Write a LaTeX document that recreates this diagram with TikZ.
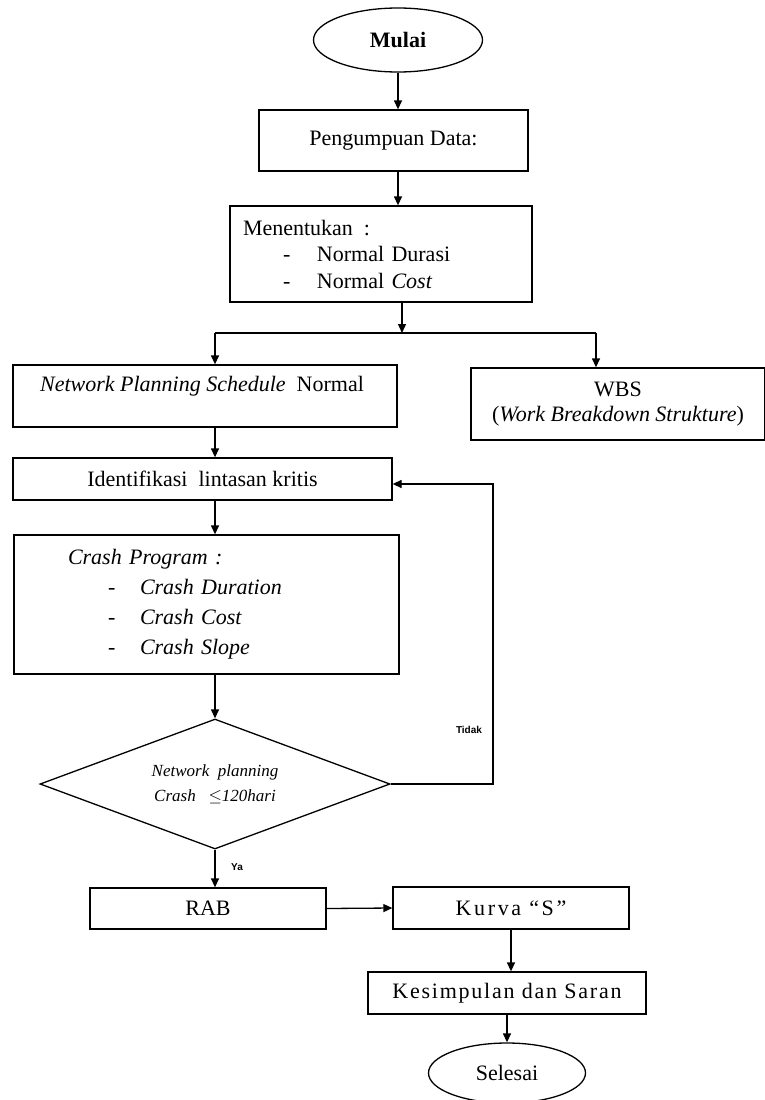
\documentclass[tikz,border=0pt]{standalone}
\usepackage{fontspec}
\setmainfont{Liberation Serif}
\newfontfamily\sansf{Liberation Sans}
\newfontfamily\spacedA[LetterSpace=8]{Liberation Serif}
\newfontfamily\spacedB[LetterSpace=12]{Liberation Serif}
\usetikzlibrary{shapes.geometric,arrows.meta}
\tikzset{
  box/.style={draw,line width=1.3pt,rectangle,inner sep=0pt,font=\fontsize{22}{26}\selectfont},
  oval/.style={draw,line width=1.3pt,ellipse,inner sep=0pt,font=\fontsize{22}{26}\selectfont},
  txt/.style={inner sep=0pt,font=\fontsize{22}{26}\selectfont},
  line/.style={line width=1.3pt},
  arr/.style={line width=1.3pt,-{Triangle[length=9pt,width=8pt]}},
  lab/.style={inner sep=0pt,font=\sansf\bfseries\fontsize{10}{12}\selectfont},
}
\newcommand{\dashitem}[2]{\makebox[#1][l]{\hspace*{40pt}\upshape -}#2}
\begin{document}
\begin{tikzpicture}[x=1pt,y=-1pt]
\useasboundingbox (0,0) rectangle (765,1100);
\fill[white] (0,0) rectangle (765,1100);
% nodes
\node[oval,minimum width=169pt,minimum height=64pt] (mulai) at (398,40) {\bfseries Mulai};
\node[box,minimum width=269pt,minimum height=61pt] (data) at (393.5,140.5) {Pengumpuan Data:};
\node[box,minimum width=302pt,minimum height=96pt,text width=276pt,align=left,inner xsep=13pt,font=\fontsize{22}{26.5}\selectfont] (tentukan) at (381,254)
  {Menentukan \,:\\\dashitem{74pt}{Normal Durasi}\\\dashitem{74pt}{Normal \textit{Cost}}};
\node[box,minimum width=384pt,minimum height=62pt] (nps) at (205,396) {};
\node[txt] (npst) at (202,386) {\textit{Network Planning Schedule} \ Normal};
\node[box,minimum width=294pt,minimum height=72pt,align=center,font=\fontsize{22}{25}\selectfont] (wbs) at (618,404) {WBS\\(\textit{Work Breakdown Strukture})};
\node[box,minimum width=379pt,minimum height=42pt] (ident) at (202.5,479) {Identifikasi \ lintasan kritis};
\node[box,minimum width=385pt,minimum height=139pt,text width=277pt,align=left,inner xsep=54pt,font=\itshape\fontsize{22}{30}\selectfont] (crash) at (206.5,604.5)
  {Crash Program :\\\dashitem{72pt}{Crash Duration}\\\dashitem{72pt}{Crash Cost}\\\dashitem{72pt}{Crash Slope}};
\node[draw,line width=1.3pt,diamond,aspect=2.69,minimum width=350pt,minimum height=130pt,inner sep=0pt,align=center,font=\itshape\fontsize{17}{25}\selectfont] (dia) at (215,784)
  {Network \ planning\\Crash \ \ $\leq$120hari};
\node[box,minimum width=236pt,minimum height=41pt] (rab) at (208,908.5) {RAB};
\node[box,minimum width=236pt,minimum height=42pt,font=\spacedB\fontsize{22}{26}\selectfont] (kurva) at (511,908) {Kurva “S”};
\node[box,minimum width=278pt,minimum height=42pt,font=\spacedA\fontsize{22}{26}\selectfont] (kes) at (507,993) {Kesimpulan dan Saran};
\node[oval,minimum width=157pt,minimum height=60pt] (selesai) at (507,1073) {Selesai};
\node[lab] (tidak) at (469,730) {Tidak};
\node[lab] (ya) at (237,867) {Ya};
% coordinates
\coordinate (j) at (402,333);
\coordinate (jl) at (215,333);
\coordinate (jr) at (596,333);
\coordinate (loopc) at (493,484);
% connectors
\draw[arr] (mulai.south) -- (mulai.south |- data.north);
\draw[arr] (mulai.south |- data.south) -- (mulai.south |- tentukan.north);
\draw[arr] (j |- tentukan.south) -- (j);
\draw[line] (jl) -- (jr);
\draw[arr] (jl) -- (jl |- nps.north);
\draw[arr] (jr) -- (jr |- wbs.north);
\draw[arr] (jl |- nps.south) -- (jl |- ident.north);
\draw[arr] (jl |- ident.south) -- (jl |- crash.north);
\draw[arr] (dia.north |- crash.south) -- (dia.north);
\draw[arr] (dia.east) -| (loopc) -- (loopc -| ident.east);
\draw[arr] (dia.south) -- (dia.south |- rab.north);
\draw[arr] (rab.east) -- (kurva.west);
\draw[arr] (kes.north -| kurva.south) ++(0,-42) -- (kes.north -| kurva.south);
\draw[arr] (kes.south) -- (selesai.north);
\end{tikzpicture}
\end{document}
